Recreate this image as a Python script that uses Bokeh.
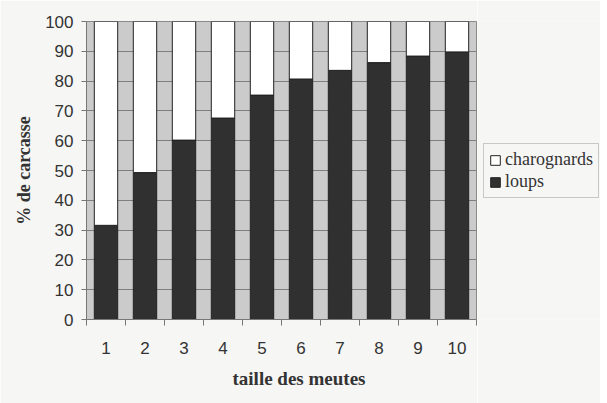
from bokeh.plotting import figure
from bokeh.layouts import row
from bokeh.models import ColumnDataSource, FixedTicker, Legend, LegendItem, Title, Range1d
from bokeh.embed import file_html
from bokeh.resources import INLINE

categories = ["1", "2", "3", "4", "5", "6", "7", "8", "9", "10"]
positions = [1, 2, 3, 4, 5, 6, 7, 8, 9, 10]
loups = [31.6, 49.3, 60.2, 67.6, 75.3, 80.7, 83.6, 86.2, 88.4, 89.8]
charognards = [round(100 - v, 1) for v in loups]
y_ticks = [0, 10, 20, 30, 40, 50, 60, 70, 80, 90, 100]
series = ["loups", "charognards"]
series_colors = ["#303030", "#ffffff"]

BG = "#f6f6f4"

source = ColumnDataSource(dict(x=positions, loups=loups, charognards=charognards))

p = figure(width=477, height=403, output_backend="svg", toolbar_location=None,
           x_range=Range1d(0.5, 10.5), y_range=Range1d(0, 100),
           min_border_left=86, min_border_top=21, min_border_right=1, min_border_bottom=84)

p.border_fill_color = BG
p.background_fill_color = "#cbcbcb"
p.outline_line_color = "#8a8a8a"

r = p.vbar_stack(series, x="x", width=0.6, source=source,
                 fill_color=series_colors, line_color="#222222", line_width=1)

p.xgrid.visible = False
p.ygrid.grid_line_color = "#7f7f7f"
p.ygrid.grid_line_width = 1

p.yaxis.ticker = FixedTicker(ticks=y_ticks)
p.yaxis.major_label_text_font = "Liberation Sans"
p.yaxis.major_label_text_font_size = "17px"
p.yaxis.major_label_text_color = "#333333"
p.yaxis.major_tick_out = 5
p.yaxis.major_tick_in = 0
p.yaxis.minor_tick_out = 0
p.yaxis.minor_tick_in = 0
p.yaxis.major_label_standoff = 8
p.yaxis.axis_line_color = "#777777"
p.yaxis.major_tick_line_color = "#777777"
p.yaxis.axis_label = "% de carcasse"
p.yaxis.axis_label_text_font = "Liberation Serif"
p.yaxis.axis_label_text_font_style = "bold"
p.yaxis.axis_label_text_font_size = "18px"
p.yaxis.axis_label_text_color = "#333333"
p.yaxis.axis_label_standoff = 8

p.xaxis.ticker = FixedTicker(ticks=positions, minor_ticks=[x - 0.5 for x in positions] + [10.5])
p.xaxis.major_label_overrides = {pos: lab for pos, lab in zip(positions, categories)}
p.xaxis.major_label_text_font = "Liberation Sans"
p.xaxis.major_label_text_font_size = "17px"
p.xaxis.major_label_text_color = "#333333"
p.xaxis.major_tick_out = 0
p.xaxis.major_tick_in = 0
p.xaxis.minor_tick_out = 6
p.xaxis.minor_tick_in = 0
p.xaxis.minor_tick_line_color = "#777777"
p.xaxis.axis_line_color = "#777777"
p.xaxis.major_label_standoff = 16
p.xaxis.axis_label_standoff = 0

t = Title(text="taille des meutes", align="left", offset=146,
          text_font="Liberation Serif", text_font_style="bold", text_font_size="19px",
          text_color="#333333", standoff=22, vertical_align="top")
p.add_layout(t, "below")

# legend panel
q = figure(width=123, height=403, output_backend="svg", toolbar_location=None,
           x_range=Range1d(0, 1), y_range=Range1d(0, 1),
           min_border_left=0, min_border_right=0, min_border_top=0, min_border_bottom=0)
q.axis.visible = False
q.grid.visible = False
q.outline_line_color = None
q.background_fill_color = BG
q.border_fill_color = BG
hidden = ColumnDataSource(dict(x=[5], top=[5]))
g_char = q.vbar(x="x", top="top", width=0.1, source=hidden,
                fill_color=series_colors[1], line_color="#222222")
g_loup = q.vbar(x="x", top="top", width=0.1, source=hidden,
                fill_color=series_colors[0], line_color="#222222")

legend = Legend(items=[LegendItem(label="charognards", renderers=[g_char]),
                       LegendItem(label="loups", renderers=[g_loup])],
                location=(6, 121), orientation="vertical",
                label_text_font="Liberation Serif", label_text_font_size="18px",
                label_text_color="#333333",
                glyph_width=12, glyph_height=12, label_standoff=4,
                spacing=1, padding=5, margin=0,
                border_line_color="#999999", background_fill_color=BG)
q.add_layout(legend, "center")

layout = row(p, q)
open("out.html", "w").write(file_html(layout, INLINE))
